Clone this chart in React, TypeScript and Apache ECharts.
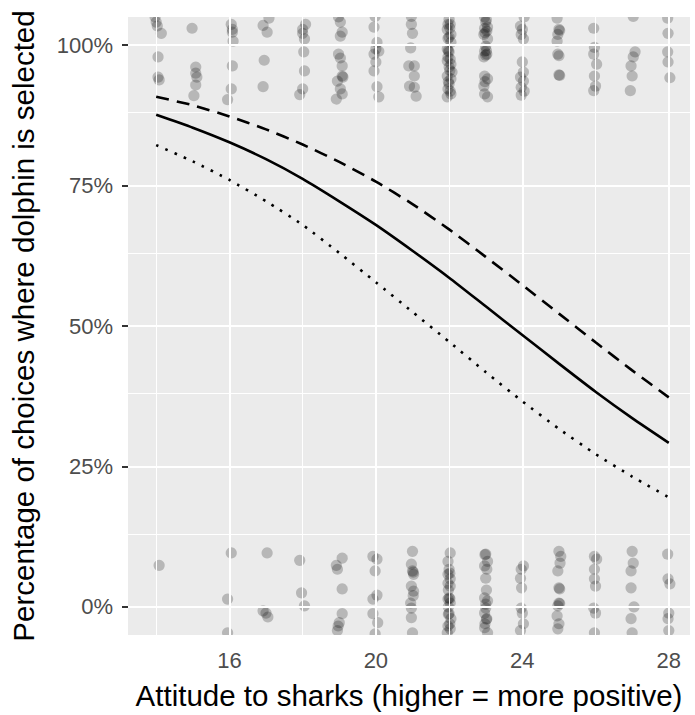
import React, { useEffect, useRef } from "react";
import * as echarts from "echarts";

// ---- axis ticks / grid positions ----
const xTickValues = [16, 20, 24, 28];
const xMinorGrid = [14, 18, 22, 26];
const yTickValues = [0, 0.25, 0.5, 0.75, 1];
const yMinorGrid = [0.125, 0.375, 0.625, 0.875];

// ---- fitted curve and its bounds ----
const curveX = [14, 15, 16, 17, 18, 19, 20, 21, 22, 23, 24, 25, 26, 27, 28];
const fitted = [0.876, 0.853, 0.827, 0.797, 0.762, 0.722, 0.68, 0.634, 0.586, 0.535, 0.484, 0.433, 0.383, 0.336, 0.292];
const upperBound = [0.908, 0.893, 0.873, 0.85, 0.823, 0.792, 0.757, 0.717, 0.672, 0.623, 0.573, 0.522, 0.471, 0.421, 0.373];
const lowerBound = [0.822, 0.793, 0.76, 0.722, 0.68, 0.63, 0.578, 0.525, 0.472, 0.418, 0.366, 0.317, 0.272, 0.232, 0.195];

// ---- jittered observations: dolphin selected (near 100%) ----
const selectedPoints: [number, number][] = [
  [13.97, 1.05], [14.0, 1.041], [14.03, 1.034], [14.14, 1.021], [14.05, 0.979], [14.05, 0.943], [14.08, 0.938],
  [14.98, 1.03], [15.08, 0.961], [15.08, 0.95], [15.11, 0.943], [15.08, 0.929], [15.03, 0.91],
  [16.05, 1.037], [16.08, 1.028], [16.08, 1.023], [16.1, 1.007], [16.08, 0.963], [16.05, 0.922], [15.95, 0.903],
  [17.08, 1.048], [16.92, 1.035], [17.03, 1.023], [16.95, 0.973], [16.92, 0.926],
  [18.08, 1.037], [18.0, 1.028], [18.0, 1.021], [18.05, 1.011], [18.03, 0.988], [18.05, 0.954], [18.0, 0.922], [17.92, 0.912],
  [18.98, 1.05], [19.03, 1.041], [19.08, 1.023], [19.03, 1.016], [18.98, 0.984], [19.03, 0.977], [19.08, 0.963],
  [19.08, 0.945], [19.1, 0.943], [18.95, 0.936], [19.03, 0.922], [19.08, 0.913], [18.92, 0.904],
  [19.98, 1.051], [19.95, 1.032], [20.03, 1.005], [20.0, 0.993], [20.08, 0.989], [19.95, 0.984], [20.0, 0.97],
  [19.95, 0.954], [20.03, 0.926], [20.08, 0.908],
  [20.97, 1.051], [20.97, 1.037], [21.0, 1.021], [20.95, 0.995], [20.9, 0.963], [21.05, 0.963], [21.05, 0.945],
  [20.92, 0.927], [21.05, 0.925], [21.1, 0.909],
  [22.0, 1.046], [21.97, 1.037], [22.03, 1.037], [21.95, 1.028], [22.02, 1.03], [22.05, 1.019], [22.0, 1.014],
  [21.97, 1.012], [22.05, 1.005], [21.95, 0.993], [21.98, 0.99], [22.0, 0.988], [21.97, 0.979], [22.03, 0.975],
  [21.95, 0.972], [22.05, 0.966], [22.0, 0.961], [22.02, 0.955], [22.08, 0.952], [21.95, 0.945], [22.05, 0.94],
  [21.98, 0.935], [22.0, 0.931], [21.97, 0.922], [22.03, 0.918], [22.05, 0.913], [21.95, 0.908],
  [22.97, 1.05], [23.02, 1.045], [23.0, 1.041], [23.05, 1.032], [22.97, 1.03], [23.03, 1.025], [22.98, 1.022],
  [22.95, 1.019], [23.05, 1.011], [23.0, 0.998], [23.02, 0.99], [22.97, 0.989], [23.03, 0.984], [23.0, 0.982],
  [22.95, 0.979], [22.97, 0.945], [23.05, 0.94], [22.98, 0.935], [22.95, 0.927], [22.97, 0.913], [23.05, 0.908],
  [24.05, 1.05], [23.95, 1.034], [24.0, 1.028], [23.97, 1.019], [24.03, 1.011], [24.0, 0.97], [24.03, 0.952],
  [23.95, 0.943], [24.03, 0.936], [23.97, 0.925], [24.05, 0.918], [23.97, 0.911],
  [24.95, 1.048], [25.0, 1.028], [25.02, 1.026], [24.97, 1.019], [24.95, 1.007], [24.97, 0.984], [25.0, 0.981],
  [25.0, 0.947], [25.02, 0.946],
  [25.95, 1.03], [25.97, 0.996], [25.95, 0.984], [26.03, 0.966], [25.97, 0.945], [26.0, 0.927], [25.95, 0.919],
  [27.03, 1.051], [27.08, 0.988], [27.03, 0.979], [26.97, 0.963], [27.0, 0.945], [26.95, 0.919],
  [27.97, 1.048], [27.98, 1.021], [27.97, 0.988], [27.98, 0.97], [28.03, 0.942],
];

// ---- jittered observations: dolphin not selected (near 0%) ----
const notSelectedPoints: [number, number][] = [
  [14.08, 0.074],
  [16.05, 0.096], [15.95, 0.014], [15.95, -0.046],
  [17.03, 0.096], [16.92, -0.007], [17.0, -0.011], [17.05, -0.018],
  [17.92, 0.083], [17.97, 0.025], [18.05, 0.002],
  [19.08, 0.087], [18.92, 0.074], [18.95, 0.067], [19.08, 0.032], [19.08, -0.012], [19.0, -0.028], [18.97, -0.034], [18.95, -0.042],
  [19.92, 0.09], [20.03, 0.085], [19.98, 0.064], [19.92, 0.014], [20.03, 0.021], [19.92, -0.012], [20.05, -0.028], [19.98, -0.048],
  [21.0, 0.099], [20.97, 0.076], [21.0, 0.064], [21.02, 0.062], [21.03, 0.058], [20.97, 0.037], [21.03, 0.028],
  [21.02, 0.02], [20.95, 0.007], [20.97, -0.002], [20.97, -0.019], [21.0, -0.046],
  [22.03, 0.096], [21.97, 0.081], [22.0, 0.067], [22.02, 0.06], [21.97, 0.058], [22.03, 0.05], [21.97, 0.042],
  [22.03, 0.037], [21.98, 0.03], [22.0, 0.016], [22.02, 0.015], [21.97, 0.014], [22.03, 0.007], [21.98, 0.0],
  [22.0, -0.012], [21.98, -0.013], [22.05, -0.021], [22.02, -0.03], [21.97, -0.034], [22.03, -0.039], [21.95, -0.046],
  [23.0, 0.094], [22.98, 0.093], [23.05, 0.081], [22.97, 0.073], [23.03, 0.067], [23.0, 0.051], [23.02, 0.03],
  [22.97, 0.016], [23.05, 0.011], [23.0, 0.005], [23.0, -0.002], [22.97, -0.011], [23.03, -0.021], [23.02, -0.022],
  [22.98, -0.03], [22.97, -0.037], [23.05, -0.046],
  [24.03, 0.073], [23.97, 0.067], [23.95, 0.051], [23.98, 0.034], [23.97, -0.002], [24.0, -0.011], [24.03, -0.03], [23.95, -0.042],
  [25.0, 0.099], [25.05, 0.09], [25.03, 0.078], [24.97, 0.064], [25.0, 0.034], [25.02, 0.032], [25.0, 0.007],
  [25.02, 0.006], [24.97, 0.002], [24.95, -0.016], [25.0, -0.03], [24.97, -0.039],
  [25.97, 0.09], [26.03, 0.085], [25.97, 0.067], [25.97, 0.05], [26.0, 0.037], [25.95, -0.002], [26.0, -0.011], [25.97, -0.046],
  [27.0, 0.099], [27.03, 0.078], [26.97, 0.064], [26.97, 0.034], [27.05, 0.0], [26.97, -0.021], [27.0, -0.046],
  [27.97, 0.094], [27.98, 0.05], [28.03, 0.041], [28.0, -0.011], [27.98, -0.021], [28.0, -0.042],
];

const FONT = "'Liberation Sans', Arial, sans-serif";

export default function App() {
  const ref = useRef<HTMLDivElement>(null);

  useEffect(() => {
    if (!ref.current) return;
    const chart = echarts.init(ref.current, undefined, { renderer: "svg" });

    const gridLines: any[] = [
      ...xMinorGrid.map((v) => ({ xAxis: v, lineStyle: { color: "#FFFFFF", width: 1, type: "solid" } })),
      ...xTickValues.map((v) => ({ xAxis: v, lineStyle: { color: "#FFFFFF", width: 2, type: "solid" } })),
      ...yMinorGrid.map((v) => ({ yAxis: v, lineStyle: { color: "#FFFFFF", width: 1, type: "solid" } })),
      ...yTickValues.map((v) => ({ yAxis: v, lineStyle: { color: "#FFFFFF", width: 2, type: "solid" } })),
    ];

    const line = (vals: number[], type: any) => ({
      type: "line",
      data: curveX.map((x, i) => [x, vals[i]]),
      showSymbol: false,
      symbol: "none",
      smooth: 0.2,
      silent: true,
      z: 5,
      lineStyle: { color: "#000000", width: 2.6, type, cap: "butt" },
    });

    const pointSeries = (pts: [number, number][]) => ({
      type: "custom",
      coordinateSystem: "cartesian2d",
      clip: true,
      silent: true,
      z: 3,
      data: pts,
      encode: { x: 0, y: 1 },
      renderItem: (_params: any, api: any) => {
        const c = api.coord([api.value(0), api.value(1)]);
        return {
          type: "circle",
          shape: { cx: c[0], cy: c[1], r: 5.6 },
          style: { fill: "rgba(0,0,0,0.22)", stroke: "none" },
        };
      },
    });

    chart.setOption({
      animation: false,
      backgroundColor: "#FFFFFF",
      grid: {
        left: 128,
        right: 5,
        top: 17,
        bottom: 76,
        show: true,
        backgroundColor: "#EBEBEB",
        borderWidth: 0,
      },
      xAxis: {
        type: "value",
        min: 13.23,
        max: 28.58,
        name: "Attitude to sharks (higher = more positive)",
        nameLocation: "middle",
        nameGap: 45,
        nameTextStyle: { fontSize: 29.5, color: "#000000", fontFamily: FONT },
        axisLine: { show: false },
        splitLine: { show: false },
        axisTick: {
          show: true,
          customValues: xTickValues,
          length: 6,
          lineStyle: { color: "#333333", width: 2 },
        },
        axisLabel: {
          customValues: xTickValues,
          fontSize: 22,
          color: "#4D4D4D",
          fontFamily: FONT,
          margin: 14,
        },
      },
      yAxis: {
        type: "value",
        min: -0.05,
        max: 1.05,
        name: "Percentage of choices where dolphin is selected",
        nameLocation: "middle",
        nameGap: 90,
        nameTextStyle: { fontSize: 29.5, color: "#000000", fontFamily: FONT },
        axisLine: { show: false },
        splitLine: { show: false },
        axisTick: {
          show: true,
          customValues: yTickValues,
          length: 6,
          lineStyle: { color: "#333333", width: 2 },
        },
        axisLabel: {
          customValues: yTickValues,
          fontSize: 22,
          color: "#4D4D4D",
          fontFamily: FONT,
          margin: 15,
          formatter: (v: number) => `${Math.round(v * 100)}%`,
        },
      },
      series: [
        {
          type: "line",
          data: [],
          silent: true,
          z: 1,
          markLine: {
            silent: true,
            symbol: ["none", "none"],
            label: { show: false },
            emphasis: { disabled: true },
            data: gridLines,
          },
        },
        pointSeries(selectedPoints),
        pointSeries(notSelectedPoints),
        line(upperBound, [13, 8]),
        line(fitted, "solid"),
        line(lowerBound, [2.6, 7.4]),
      ],
    });

    return () => chart.dispose();
  }, []);

  return (
    <div
      ref={ref}
      style={{ position: "fixed", left: 0, top: 0, width: 695, height: 715 }}
    />
  );
}
